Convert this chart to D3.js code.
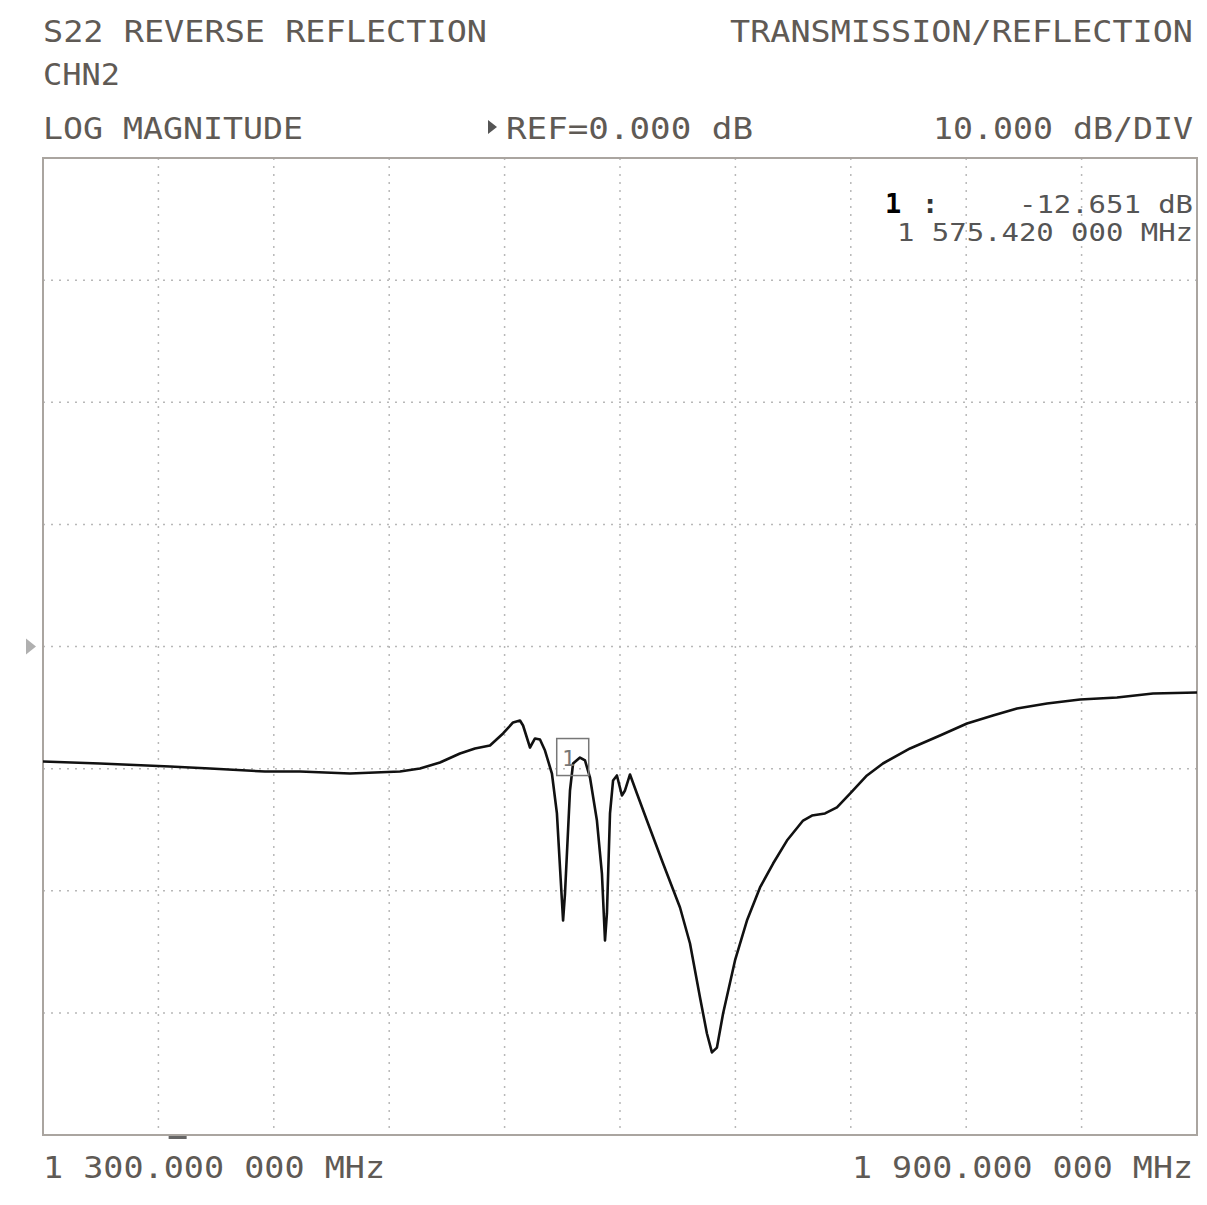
<!DOCTYPE html>
<meta charset="utf-8">
<style>
  body { margin: 0; background: #fff; }
  text { font-family: "DejaVu Sans Mono", monospace; }
</style>
<body>
<div id="chart"></div>
<script src="https://d3js.org/d3.v7.min.js"></script>
<script>
// ——— trace (MHz, dB) ———
const freqMHz = [
  1300.0, 1329.6, 1366.0, 1386.8, 1415.4, 1433.6, 1459.6, 1485.6, 1496.0, 1506.4,
  1516.8, 1524.6, 1532.4, 1539.2, 1544.4, 1548.0, 1549.6, 1553.2, 1555.8, 1558.4,
  1561.0, 1564.6, 1567.2, 1568.8, 1570.4, 1571.4, 1574.0, 1575.6, 1579.2, 1581.8,
  1584.4, 1588.0, 1590.6, 1592.2, 1593.2, 1594.8, 1596.4, 1598.4, 1601.0, 1602.6,
  1605.2, 1608.8, 1614.0, 1622.4, 1631.2, 1636.4, 1641.6, 1645.2, 1647.8, 1650.4,
  1653.6, 1659.8, 1666.0, 1672.8, 1679.6, 1686.8, 1695.2, 1699.8, 1706.6, 1712.8,
  1719.6, 1728.4, 1736.7, 1750.8, 1766.4, 1780.4, 1793.9, 1806.4, 1822.0, 1839.2,
  1858.4, 1877.1, 1900.0
];
const s22dB = [
  -9.42, -9.58, -9.83, -9.99, -10.24, -10.24, -10.40, -10.24, -9.99, -9.50,
  -8.76, -8.35, -8.11, -7.12, -6.22, -6.06, -6.47, -8.27, -7.53, -7.62,
  -8.52, -10.40, -13.67, -18.10, -22.44, -20.23, -11.79, -9.58, -9.09, -9.33,
  -10.73, -14.25, -18.59, -24.07, -21.86, -13.67, -10.97, -10.56, -12.20, -11.79,
  -10.48, -12.04, -14.25, -17.77, -21.37, -24.32, -28.74, -31.69, -33.24, -32.84,
  -30.05, -25.71, -22.44, -19.73, -17.77, -15.89, -14.25, -13.84, -13.67, -13.18,
  -12.04, -10.56, -9.58, -8.35, -7.29, -6.31, -5.65, -5.08, -4.67, -4.34,
  -4.18, -3.85, -3.77
];

const startMHz = 1300, stopMHz = 1900, freqDivs = 10;
const refDb = 0, dbPerDiv = 10, refDiv = 4, ampDivs = 8;
const markerMHz = 1575.42;
const stimMarkerMHz = 1370;

const headerLeft  = ["S22 REVERSE REFLECTION", "CHN2", "LOG MAGNITUDE"];
const headerRight = "TRANSMISSION/REFLECTION";
const refLabel    = "REF=0.000 dB";
const scaleLabel  = "10.000 dB/DIV";
const markerLines = ["-12.651 dB", "1 575.420 000 MHz"];
const startLabel  = "1 300.000 000 MHz";
const stopLabel   = "1 900.000 000 MHz";

// ——— layout ———
const W = 1207, H = 1205;
const plot = { left: 43, right: 1197, top: 158, bottom: 1135 };
const textCol = "#5f5a55";

const svg = d3.select("#chart").append("svg")
  .attr("width", W).attr("height", H);

const x = d3.scaleLinear().domain([startMHz, stopMHz]).range([plot.left, plot.right]);
const y = d3.scaleLinear()
  .domain([refDb - refDiv * dbPerDiv, refDb + (ampDivs - refDiv) * dbPerDiv])
  .range([plot.bottom, plot.top]);

// grid (dotted)
const fStep = (stopMHz - startMHz) / freqDivs;
const vLines = d3.range(1, freqDivs).map(i => startMHz + i * fStep);
const hLines = d3.range(1, ampDivs).map(i => y.domain()[0] + i * dbPerDiv);

svg.append("g").selectAll("line")
  .data(vLines).join("line")
    .attr("x1", d => x(d)).attr("x2", d => x(d))
    .attr("y1", plot.top).attr("y2", plot.bottom)
    .attr("stroke", "#b8b8b8").attr("stroke-width", 1.5)
    .attr("stroke-dasharray", "2,6");

svg.append("g").selectAll("line")
  .data(hLines).join("line")
    .attr("y1", d => y(d)).attr("y2", d => y(d))
    .attr("x1", plot.left).attr("x2", plot.right)
    .attr("stroke", "#b8b8b8").attr("stroke-width", 1.5)
    .attr("stroke-dasharray", "2,6");

// frame
svg.append("rect")
  .attr("x", plot.left).attr("y", plot.top)
  .attr("width", plot.right - plot.left).attr("height", plot.bottom - plot.top)
  .attr("fill", "none").attr("stroke", "#aaa5a0").attr("stroke-width", 2);

// reference position arrow
svg.append("path")
  .attr("d", `M26,${y(refDb) - 8} L36,${y(refDb)} L26,${y(refDb) + 8} Z`)
  .attr("fill", "#b0b0b0");

// stimulus marker dash under the frame
svg.append("rect")
  .attr("x", x(stimMarkerMHz) - 9).attr("y", plot.bottom + 1)
  .attr("width", 18).attr("height", 3)
  .attr("fill", "#666");

// trace
const pts = freqMHz.map((f, i) => [f, s22dB[i]]);
svg.append("path")
  .datum(pts)
  .attr("fill", "none")
  .attr("stroke", "#111")
  .attr("stroke-width", 2.6)
  .attr("stroke-linejoin", "round")
  .attr("d", d3.line().x(d => x(d[0])).y(d => y(d[1])));

// marker box sits on the trace
const bi = d3.bisector(d => d[0]).left(pts, markerMHz);
const p0 = pts[bi - 1], p1 = pts[bi];
const mDb = p0[1] + (p1[1] - p0[1]) * (markerMHz - p0[0]) / (p1[0] - p0[0]);
const mx = x(markerMHz), my = y(mDb);
svg.append("rect")
  .attr("x", mx - 16).attr("y", my - 28)
  .attr("width", 32).attr("height", 37)
  .attr("fill", "none").attr("stroke", "#777").attr("stroke-width", 1.5);
svg.append("text")
  .attr("x", mx - 4).attr("y", my - 1)
  .attr("font-size", 22).attr("fill", "#777")
  .attr("text-anchor", "middle")
  .text("1");

// ——— header texts ———
function label(str, xPos, yPos, width, opts = {}) {
  const t = svg.append("text")
    .attr("x", xPos).attr("y", yPos)
    .attr("font-size", opts.size || 30)
    .attr("fill", opts.fill || textCol)
    .attr("text-anchor", opts.anchor || "start")
    .text(str);
  if (width) t.attr("textLength", width).attr("lengthAdjust", "spacingAndGlyphs");
  return t;
}

label(headerLeft[0], 43, 42, 444);
label(headerRight, 730, 42, 463);
label(headerLeft[1], 43, 85, 77);
label(headerLeft[2], 43, 139, 260);

svg.append("path")
  .attr("d", "M488,120 L497,127 L488,134 Z")
  .attr("fill", "#555");
label(refLabel, 506, 139, 247);
label(scaleLabel, 933, 139, 260);

// marker readout
label("1", 885, 213, null, { size: 27, fill: "#000" }).attr("font-weight", "bold");
label(":", 922, 213, null, { size: 27, fill: "#333" }).attr("font-weight", "bold");
label(markerLines[0], 1193, 213, 174, { size: 25, fill: "#555" }).attr("text-anchor", "end");
label(markerLines[1], 1193, 241, 296, { size: 25, fill: "#555" }).attr("text-anchor", "end");

// start / stop frequencies
label(startLabel, 43, 1178, 342);
label(stopLabel, 1193, 1178, 341, { anchor: "end" });
</script>
</body>
